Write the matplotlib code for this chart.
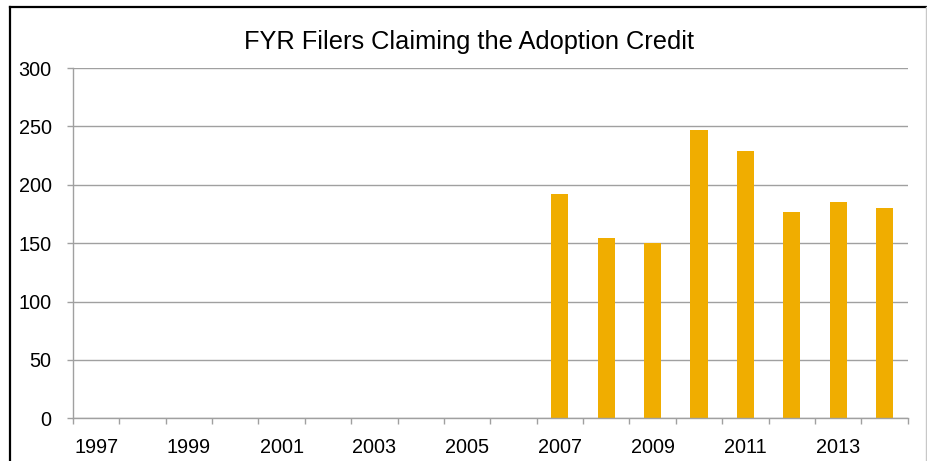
import matplotlib.pyplot as plt
from matplotlib.lines import Line2D
from matplotlib.ticker import FixedLocator

plt.rcParams['font.family'] = ['Liberation Sans', 'DejaVu Sans']

# Data
years = [1997, 1998, 1999, 2000, 2001, 2002, 2003, 2004, 2005,
         2006, 2007, 2008, 2009, 2010, 2011, 2012, 2013, 2014]
bar_years = [2007, 2008, 2009, 2010, 2011, 2012, 2013, 2014]
filers = [192, 154, 150, 247, 229, 177, 185, 180]
tick_years = [1997, 1999, 2001, 2003, 2005, 2007, 2009, 2011, 2013]

bar_color = '#F0AD00'
grid_color = '#A0A0A0'

fig = plt.figure(figsize=(9.28, 4.61), dpi=100)
ax = fig.add_axes([73 / 928, 1 - 418.3 / 461, (907.7 - 73) / 928, (418.3 - 68) / 461])

pos = [years.index(y) for y in bar_years]
ax.bar(pos, filers, width=0.37, color=bar_color, zorder=2)

ax.set_xlim(-0.5, len(years) - 0.5)
ax.set_ylim(0, 300)
ax.set_yticks([0, 50, 100, 150, 200, 250, 300])

# category boundaries get the tick marks, labels sit under category centers
ax.xaxis.set_major_locator(FixedLocator([i - 0.5 for i in range(len(years) + 1)]))
ax.xaxis.set_major_formatter(plt.NullFormatter())
ax.xaxis.set_minor_locator(FixedLocator([years.index(y) for y in tick_years]))
ax.set_xticklabels([str(y) for y in tick_years], minor=True)
ax.tick_params(axis='x', which='major', length=4.3, width=1, color=grid_color)
ax.tick_params(axis='x', which='minor', length=0, pad=14, labelsize=14.3)
ax.tick_params(axis='y', length=4.3, width=1, color=grid_color, pad=11, labelsize=14.3)

ax.grid(axis='y', color=grid_color, linewidth=1)
ax.set_axisbelow(True)
for side in ['top', 'right']:
    ax.spines[side].set_visible(False)
for side in ['left', 'bottom']:
    ax.spines[side].set_color(grid_color)
    ax.spines[side].set_linewidth(1)

fig.text(469 / 928, 1 - 42 / 461, 'FYR Filers Claiming the Adoption Credit',
         ha='center', va='center', fontsize=18.3)

# outer chart frame
fig.add_artist(Line2D([10 / 928, 10 / 928], [0, 1 - 7 / 461], color='black', linewidth=1.6,
                      transform=fig.transFigure))
fig.add_artist(Line2D([10 / 928, 926.5 / 928], [1 - 7 / 461, 1 - 7 / 461], color='black',
                      linewidth=1.6, transform=fig.transFigure))
fig.add_artist(Line2D([926.5 / 928, 926.5 / 928], [0, 1 - 7 / 461], color='#C8C8C8',
                      linewidth=1, transform=fig.transFigure))

fig.savefig('out.png', dpi=100)
